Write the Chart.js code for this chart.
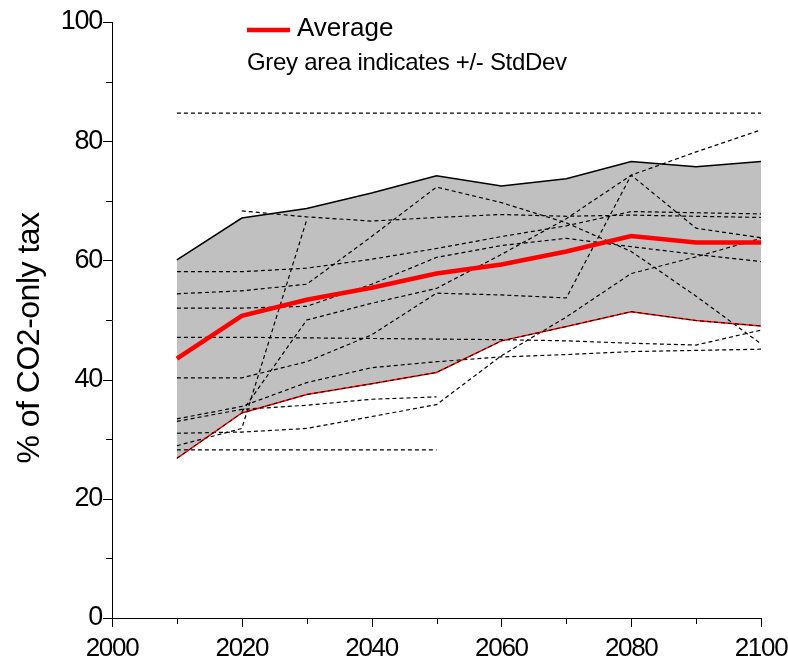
<!DOCTYPE html>
<html>
<head>
<meta charset="utf-8">
<script src="https://cdn.jsdelivr.net/npm/chart.js@4/dist/chart.umd.min.js"></script>
<style>
  html, body { margin: 0; padding: 0; background: #fff; }
</style>
</head>
<body>
<canvas id="myChart" width="788" height="668"></canvas>
<script>
// years on the x axis
const years = [2010, 2020, 2030, 2040, 2050, 2060, 2070, 2080, 2090, 2100];

// ensemble mean and +/- one standard deviation
const average = [43.5, 50.7, 53.4, 55.4, 57.8, 59.3, 61.5, 64.1, 63.0, 63.0];
const upperSd = [60.1, 67.1, 68.7, 71.3, 74.2, 72.5, 73.7, 76.6, 75.7, 76.6];
const lowerSd = [26.8, 34.4, 37.5, 39.3, 41.2, 46.5, 48.9, 51.4, 49.9, 49.0];

// individual model runs (null = no value for that year)
const model1  = [84.7, 84.7, 84.7, 84.7, 84.7, 84.7, 84.7, 84.7, 84.7, 84.7];
const model2  = [58.1, 58.1, 58.7, 60.2, 62.0, 64.0, 65.8, 68.2, 68.0, 67.8];
const model3  = [null, 68.3, 67.3, 66.6, 67.2, 67.7, 67.4, 67.6, 67.4, 67.2];
const model4  = [28.9, 31.8, 66.8, null, null, null, null, null, null, null];
const model5  = [54.4, 54.9, 56.0, 64.0, 72.3, 69.7, 66.3, 61.5, 54.0, 46.0];
const model6  = [40.3, 40.3, 43.0, 47.5, 54.5, 54.2, 53.7, 74.3, 65.4, 63.8];
const model7  = [null, 34.6, 50.0, 52.8, 55.3, 61.0, 67.0, 74.3, 78.2, 81.9];
const model8  = [52.0, 52.0, 52.3, 56.0, 60.5, 62.5, 63.7, 62.3, 61.0, 59.8];
const model9  = [47.1, 47.1, 47.0, 46.9, 46.8, 46.7, 46.5, 46.1, 45.8, 48.3];
const model10 = [33.4, 35.5, 39.5, 42.0, 43.0, 43.8, 44.2, 44.7, 44.9, 45.1];
const model11 = [33.0, 35.0, 35.7, 36.7, 37.1, null, null, null, null, null];
const model12 = [31.0, 31.2, 31.8, 33.8, 35.8, 44.0, 50.5, 57.8, 60.6, 63.7];
const model13 = [28.2, 28.2, 28.2, 28.2, 28.2, null, null, null, null, null];

const models = [model1, model2, model3, model4, model5, model6, model7,
                model8, model9, model10, model11, model12, model13];

const xTicks = [2000, 2020, 2040, 2060, 2080, 2100];
const yTicks = [0, 20, 40, 60, 80, 100];

const FONT = '"Liberation Sans", Arial, sans-serif';
const SPACING = '-1.3px';

function toPoints(vals) {
    const pts = [];
    vals.forEach((v, i) => {
        if (v !== null) pts.push({ x: years[i], y: v });
    });
    return pts;
}

const datasets = [];

// grey band between the two bounds
datasets.push({
    label: 'upper',
    data: toPoints(upperSd),
    borderColor: '#000',
    borderWidth: 1.5,
    backgroundColor: '#c0c0c0',
    fill: { target: 1 },
    pointRadius: 0,
    order: 5
});
datasets.push({
    label: 'lower',
    data: toPoints(lowerSd),
    borderColor: '#ff0000',
    borderWidth: 1.5,
    fill: false,
    pointRadius: 0,
    order: 3
});

// model runs as thin dashed lines
models.forEach((m, i) => {
    datasets.push({
        label: 'model' + (i + 1),
        data: toPoints(m),
        borderColor: '#000',
        borderWidth: 1.2,
        borderDash: [4, 3],
        fill: false,
        pointRadius: 0,
        order: 4
    });
});

// dashes running along the lower bound
datasets.push({
    label: 'lowerDash',
    data: toPoints(lowerSd),
    borderColor: '#000',
    borderWidth: 1,
    borderDash: [4, 3],
    fill: false,
    pointRadius: 0,
    order: 2
});

datasets.push({
    label: 'Average',
    data: toPoints(average),
    borderColor: '#ff0000',
    borderWidth: 4.5,
    fill: false,
    pointRadius: 0,
    order: 0
});

// tighter letter spacing for all canvas text
const tightText = {
    id: 'tightText',
    beforeUpdate(chart) { chart.ctx.letterSpacing = SPACING; },
    beforeDraw(chart) { chart.ctx.letterSpacing = SPACING; }
};

// outward ticks, long on labelled values, short in between
const axisTicks = {
    id: 'axisTicks',
    afterDraw(chart) {
        const ctx = chart.ctx;
        const xs = chart.scales.x, ys = chart.scales.y;
        ctx.save();
        ctx.strokeStyle = '#000';
        ctx.lineWidth = 1;
        ctx.beginPath();
        for (let v = xs.min; v <= xs.max; v += 10) {
            const px = Math.round(xs.getPixelForValue(v)) + 0.5;
            const len = xTicks.includes(v) ? 9 : 6;
            ctx.moveTo(px, ys.bottom);
            ctx.lineTo(px, ys.bottom + len);
        }
        for (let v = ys.min; v <= ys.max; v += 10) {
            const py = Math.round(ys.getPixelForValue(v)) + 0.5;
            const len = yTicks.includes(v) ? 9 : 6;
            ctx.moveTo(xs.left, py);
            ctx.lineTo(xs.left - len, py);
        }
        ctx.stroke();
        ctx.restore();
    }
};

// y title and legend text
const labels = {
    id: 'labels',
    afterDraw(chart) {
        const ctx = chart.ctx;
        const a = chart.chartArea;
        ctx.save();
        ctx.fillStyle = '#000';
        ctx.textBaseline = 'middle';
        ctx.textAlign = 'center';
        ctx.letterSpacing = '-0.5px';
        ctx.font = '32px ' + FONT;
        ctx.translate(30, 338);
        ctx.rotate(-Math.PI / 2);
        ctx.fillText('% of CO2-only tax', 0, 0);
        ctx.restore();

        const x0 = a.left + 135;
        ctx.save();
        ctx.strokeStyle = '#ff0000';
        ctx.lineWidth = 4.5;
        ctx.beginPath();
        ctx.moveTo(x0, 30);
        ctx.lineTo(x0 + 43, 30);
        ctx.stroke();
        ctx.fillStyle = '#000';
        ctx.textBaseline = 'middle';
        ctx.letterSpacing = '0px';
        ctx.font = '26px ' + FONT;
        ctx.fillText('Average', x0 + 50, 29);
        ctx.letterSpacing = '-0.3px';
        ctx.font = '24px ' + FONT;
        ctx.fillText('Grey area indicates +/- StdDev', x0, 63);
        ctx.restore();
    }
};

const ctx = document.getElementById('myChart').getContext('2d');
const myChart = new Chart(ctx, {
    type: 'line',
    data: { datasets: datasets },
    options: {
        responsive: false,
        animation: false,
        layout: { padding: { top: 22, right: 27, left: 0, bottom: 0 } },
        elements: { line: { tension: 0 } },
        plugins: {
            legend: { display: false },
            tooltip: { enabled: false },
            filler: { drawTime: 'beforeDatasetsDraw' }
        },
        scales: {
            x: {
                type: 'linear',
                min: 2000,
                max: 2100,
                afterFit(s) { s.height = 50; s.paddingLeft = 0; s.paddingRight = 0; },
                afterBuildTicks(s) { s.ticks = xTicks.map(v => ({ value: v })); },
                border: { display: true, color: '#000', width: 1 },
                grid: { display: true, drawOnChartArea: false, tickLength: 9, tickColor: 'rgba(0,0,0,0)' },
                ticks: {
                    color: '#000', padding: 6, maxRotation: 0,
                    font: { family: FONT, size: 26 },
                    callback: v => String(v)
                }
            },
            y: {
                min: 0,
                max: 100,
                afterFit(s) { s.width = 112; },
                afterBuildTicks(s) { s.ticks = yTicks.map(v => ({ value: v })); },
                border: { display: true, color: '#000', width: 1 },
                grid: { display: true, drawOnChartArea: false, tickLength: 9, tickColor: 'rgba(0,0,0,0)' },
                ticks: {
                    color: '#000', padding: 1,
                    font: { family: FONT, size: 27 },
                    callback: v => String(v)
                }
            }
        }
    },
    plugins: [tightText, axisTicks, labels]
});
</script>
</body>
</html>
